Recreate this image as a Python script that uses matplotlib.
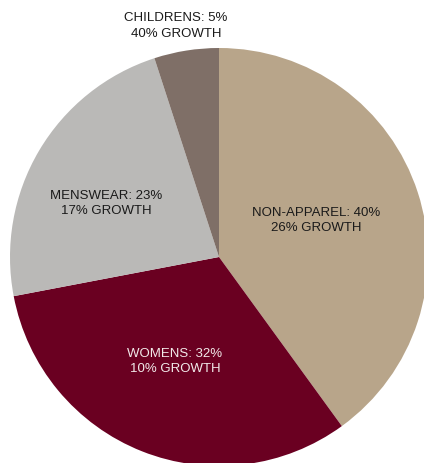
import matplotlib
matplotlib.use("Agg")
import matplotlib.pyplot as plt

plt.rcParams['font.family'] = ['Liberation Sans', 'DejaVu Sans']

categories = ["NON-APPAREL", "WOMENS", "MENSWEAR", "CHILDRENS"]
shares = [40, 32, 23, 5]
growth = [26, 10, 17, 40]
colors = ["#B8A58A", "#6A0021", "#BAB9B7", "#7F6F67"]
text_colors = ["#1a1a1a", "#F2EAEA", "#1a1a1a", "#1a1a1a"]
label_pos = [(0.464, 0.175), (-0.211, -0.502), (-0.541, 0.254), (-0.206, 1.105)]

W, H = 424, 463
fig = plt.figure(figsize=(W / 100, H / 100), dpi=100)
cx, cy, r = 219, 257, 209
ax = fig.add_axes([(cx - r) / W, (H - cy - r) / H, 2 * r / W, 2 * r / H])
wedges, _ = ax.pie(shares, colors=colors, startangle=90, counterclock=False,
                   radius=1, center=(0, 0), wedgeprops=dict(linewidth=0))
for w in wedges:
    w.set_clip_on(False)
ax.set_xlim(-1, 1)
ax.set_ylim(-1, 1)
ax.set_aspect('auto')
ax.axis('off')

for name, s, g, (x, y), tc in zip(categories, shares, growth, label_pos, text_colors):
    ax.text(x, y, f"{name}: {s}%\n{g}% GROWTH", ha='center', va='center',
            multialignment='center', fontsize=9.5, color=tc, linespacing=1.35,
            clip_on=False)

fig.savefig("out.png", dpi=100)
